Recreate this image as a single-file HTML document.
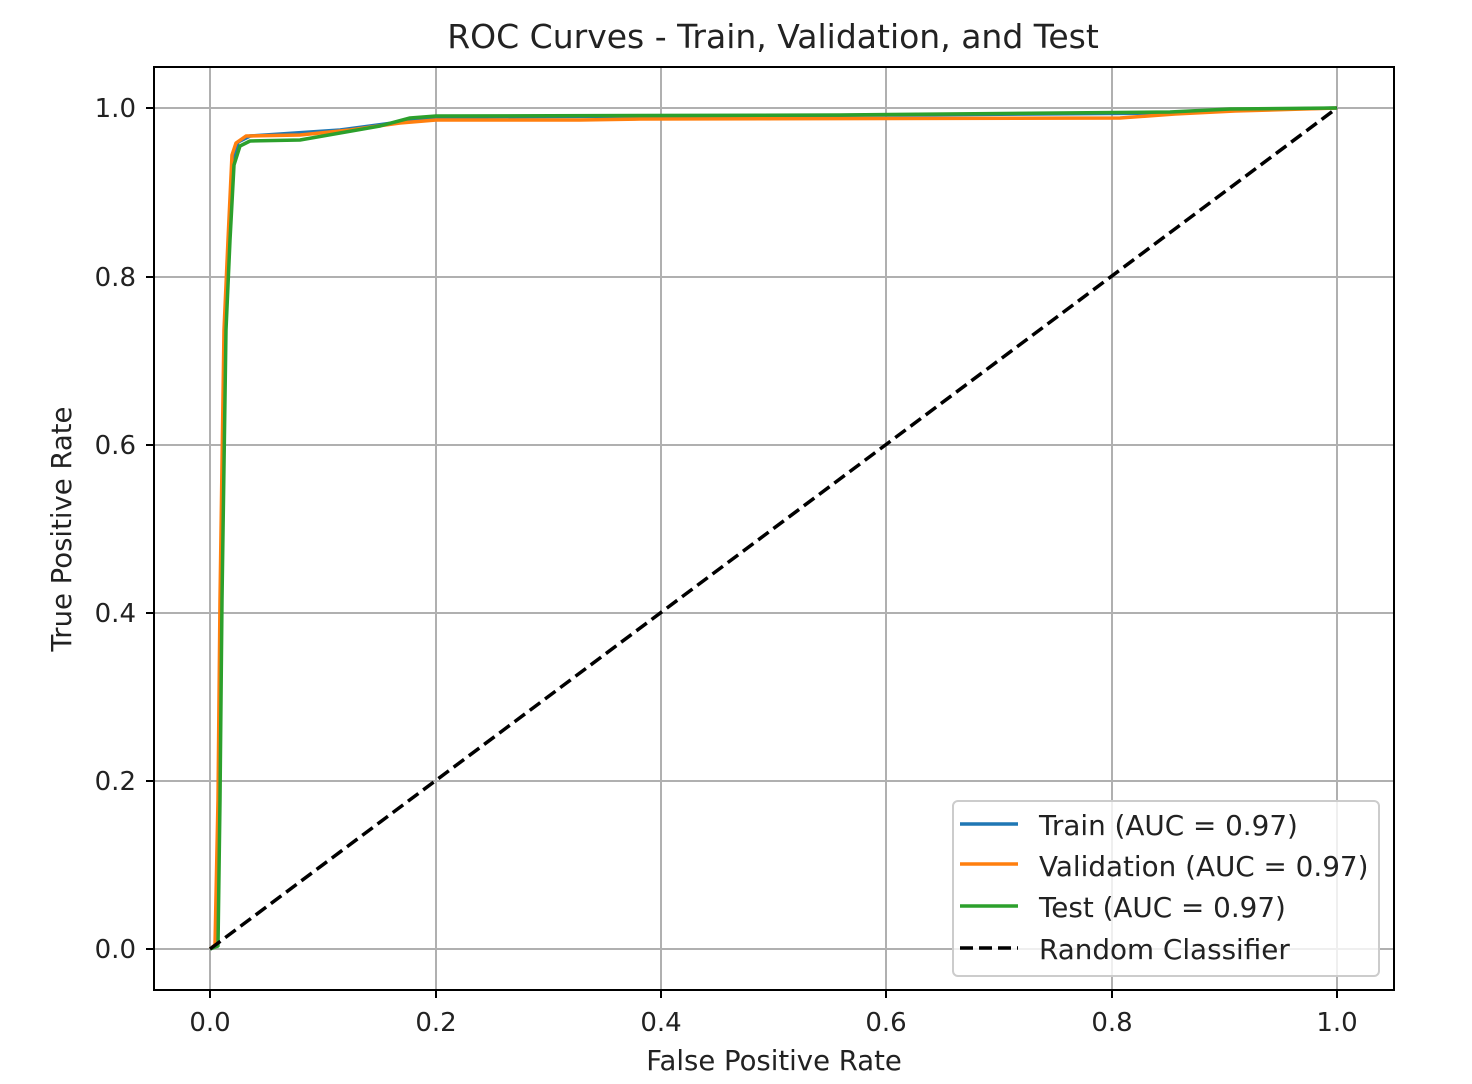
<!DOCTYPE html><html><head><style>body{margin:0;background:#fff}svg{display:block}text{font-family:"DejaVu Sans","Liberation Sans",sans-serif;fill:#222}</style></head><body>
<svg width="1472" height="1084" viewBox="0 0 1472 1084" xmlns="http://www.w3.org/2000/svg">
<rect width="1472" height="1084" fill="#fff"/>
<g stroke="#b0b0b0" stroke-width="2">
<line x1="210" y1="67" x2="210" y2="990"/><line x1="436" y1="67" x2="436" y2="990"/><line x1="661" y1="67" x2="661" y2="990"/><line x1="886" y1="67" x2="886" y2="990"/><line x1="1112" y1="67" x2="1112" y2="990"/><line x1="1337" y1="67" x2="1337" y2="990"/>
<line x1="154" y1="949" x2="1394" y2="949"/><line x1="154" y1="781" x2="1394" y2="781"/><line x1="154" y1="613" x2="1394" y2="613"/><line x1="154" y1="445" x2="1394" y2="445"/><line x1="154" y1="277" x2="1394" y2="277"/><line x1="154" y1="108" x2="1394" y2="108"/>
</g>
<g fill="none" stroke-width="3.5" stroke-linejoin="round">
<path stroke="#1f77b4" d="M210,949 L216,946 L219,800 L221,600 L225,330 L229,240 L233,160 L238,142 L250,136 L340,130 L400,122 L436,117 L900,115 L1180,113 L1230,110 L1337,108"/>
<path stroke="#ff7f0e" d="M210,949 L215,945 L218,800 L220,600 L224,330 L228,240 L232,155 L236,143 L246,136 L300,135 L350,130 L400,123 L436,120 L580,120 L640,119 L1120,118 L1175,114 L1235,111 L1337,108"/>
<path stroke="#2ca02c" d="M210,949 L218,946 L220,800 L222,600 L226,330 L230,240 L234,165 L240,146 L250,141 L300,140 L340,133 L380,126 L410,118 L436,116 L840,115 L1170,112 L1230,109 L1337,108"/>
</g>
<line x1="210" y1="949" x2="1337" y2="108" stroke="#000" stroke-width="3.5" stroke-dasharray="13,6"/>
<rect x="154" y="67" width="1240" height="923" fill="none" stroke="#000" stroke-width="2"/>
<g stroke="#000" stroke-width="2">
<line x1="210" y1="990" x2="210" y2="998"/><line x1="436" y1="990" x2="436" y2="998"/><line x1="661" y1="990" x2="661" y2="998"/><line x1="886" y1="990" x2="886" y2="998"/><line x1="1112" y1="990" x2="1112" y2="998"/><line x1="1337" y1="990" x2="1337" y2="998"/>
<line x1="146" y1="949" x2="154" y2="949"/><line x1="146" y1="781" x2="154" y2="781"/><line x1="146" y1="613" x2="154" y2="613"/><line x1="146" y1="445" x2="154" y2="445"/><line x1="146" y1="277" x2="154" y2="277"/><line x1="146" y1="108" x2="154" y2="108"/>
</g>
<g font-size="26" text-anchor="middle">
<text x="210" y="1031">0.0</text><text x="436" y="1031">0.2</text><text x="661" y="1031">0.4</text><text x="886" y="1031">0.6</text><text x="1112" y="1031">0.8</text><text x="1337" y="1031">1.0</text>
</g>
<g font-size="26" text-anchor="end">
<text x="136" y="958">0.0</text><text x="136" y="790">0.2</text><text x="136" y="622">0.4</text><text x="136" y="454">0.6</text><text x="136" y="286">0.8</text><text x="136" y="117">1.0</text>
</g>
<text x="774" y="1070" font-size="27.5" text-anchor="middle">False Positive Rate</text>
<text transform="translate(71,529) rotate(-90)" font-size="27.5" text-anchor="middle">True Positive Rate</text>
<text x="773" y="48" font-size="33" text-anchor="middle">ROC Curves - Train, Validation, and Test</text>
<rect x="953" y="801" width="426" height="175" rx="5" fill="#fff" fill-opacity="0.8" stroke="#ccc" stroke-width="2"/>
<line x1="960" y1="824" x2="1018" y2="824" stroke="#1f77b4" stroke-width="3.5"/>
<line x1="960" y1="864" x2="1018" y2="864" stroke="#ff7f0e" stroke-width="3.5"/>
<line x1="960" y1="906" x2="1018" y2="906" stroke="#2ca02c" stroke-width="3.5"/>
<line x1="960" y1="948" x2="1018" y2="948" stroke="#000" stroke-width="3.5" stroke-dasharray="13,6"/>
<g font-size="27.8">
<text x="1039" y="835">Train (AUC = 0.97)</text>
<text x="1039" y="876">Validation (AUC = 0.97)</text>
<text x="1039" y="917">Test (AUC = 0.97)</text>
<text x="1039" y="959">Random Classifier</text>
</g>
</svg></body></html>
